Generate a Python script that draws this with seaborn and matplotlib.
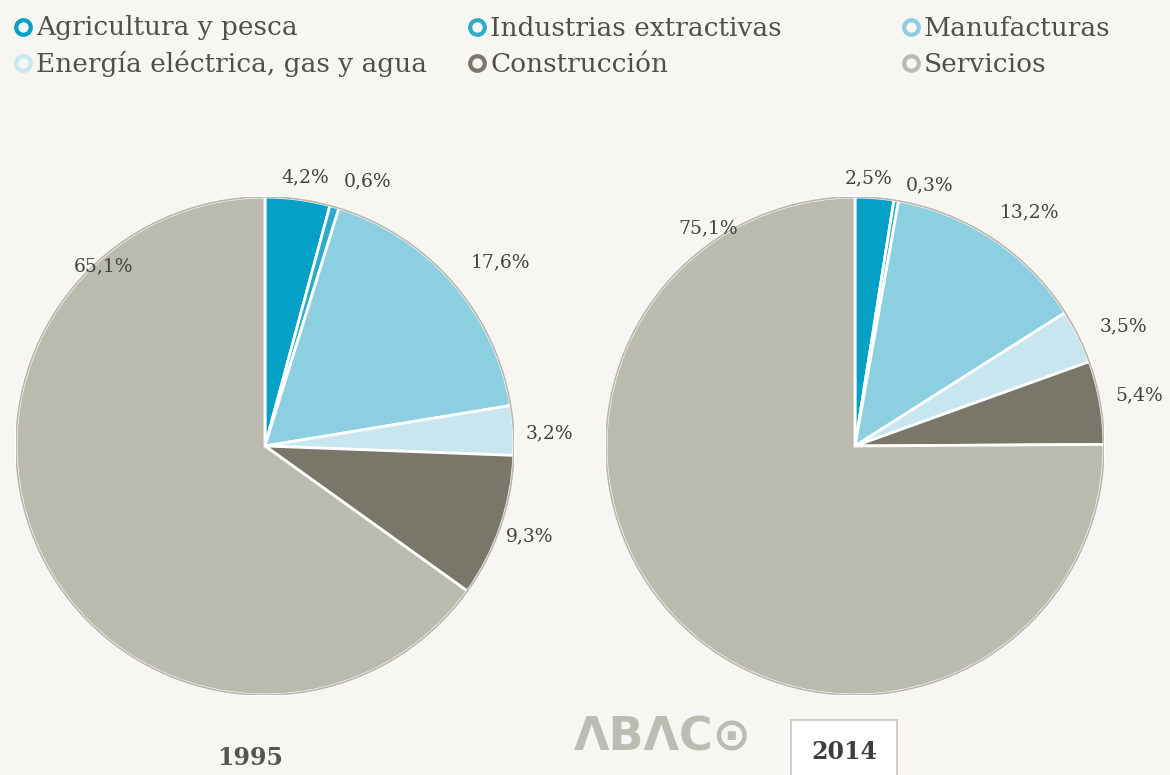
import numpy as np
import matplotlib
matplotlib.use("Agg")
import matplotlib.pyplot as plt
from matplotlib.lines import Line2D
from matplotlib.patches import Circle
import seaborn as sns

# Sector shares of output (%)
sectors = ["Agricultura y pesca", "Industrias extractivas", "Manufacturas",
           "Energía eléctrica, gas y agua", "Construcción", "Servicios"]
shares_1995 = [4.2, 0.6, 17.6, 3.2, 9.3, 65.1]
shares_2014 = [2.5, 0.3, 13.2, 3.5, 5.4, 75.1]
years = ["1995", "2014"]

palette = ["#05A0C5", "#2EAACB", "#8BCFE1", "#C7E6EF", "#79776A", "#BBBAAE"]
BG = "#F7F6F2"
TEXT = "#42423E"

sns.set_theme(style="white")
plt.rcParams["font.family"] = ["DejaVu Serif", "DejaVu Sans"]

fig = plt.figure(figsize=(11.7, 7.75), dpi=100, facecolor=BG)

W, H = 1170, 775
R = 249  # pie radius in pixels


def pie_axes(cx, cy):
    return fig.add_axes([(cx - R) / W, (H - cy - R) / H, 2 * R / W, 2 * R / H])


# label placement per wedge: (angle offset from wedge middle in degrees, radial distance)
label_layout = {
    "1995": [(-1, 1.09), (-5, 1.14), (-3, 1.20), (-1, 1.145), (0, 1.125), (-75.2, 0.97)],
    "2014": [(1.5, 1.076), (-6.5, 1.09), (-3, 1.17), (-2, 1.18), (0, 1.16), (-101.2, 1.056)],
}


def draw_pie(ax, values, year):
    ax.set_facecolor(BG)
    wedges, _ = ax.pie(values, colors=palette, startangle=90, counterclock=False,
                       radius=1.0,
                       wedgeprops=dict(edgecolor="white", linewidth=2.0))
    ax.add_patch(Circle((0, 0), 1.0, fill=False, edgecolor="#B9B7AC", linewidth=1.2))
    for w, v, (dang, dist) in zip(wedges, values, label_layout[year]):
        mid = np.deg2rad((w.theta1 + w.theta2) / 2 + dang)
        txt = f"{v:.1f}".replace(".", ",") + "%"
        ax.text(dist * np.cos(mid), dist * np.sin(mid), txt, ha="center", va="center",
                fontsize=13.5, color=TEXT, clip_on=False)
    ax.set_xlim(-1.0, 1.0)
    ax.set_ylim(-1.0, 1.0)
    ax.set_aspect("auto")
    ax.axis("off")


ax1 = pie_axes(265, 446)
draw_pie(ax1, shares_1995, years[0])
ax2 = pie_axes(855, 446)
draw_pie(ax2, shares_2014, years[1])

# legend rows: ring markers with sector names
legend_pos = [(23, 27), (477, 27), (911, 27), (23, 63), (477, 63), (911, 63)]
for (x, y), name, col in zip(legend_pos, sectors, palette):
    fx, fy = x / W, 1 - y / H
    fig.add_artist(Line2D([fx], [fy], marker="o", markersize=10.5, markerfacecolor=BG,
                          markeredgecolor=col, markeredgewidth=3, linestyle="none",
                          transform=fig.transFigure))
    fig.text(fx + 13 / W, fy - 1 / H, name, ha="left", va="center", fontsize=19,
             color="#50504B")

# year captions
fig.text(250 / W, 1 - 758 / H, years[0], ha="center", va="center", fontsize=17,
         fontweight="bold", color="#555550")
fig.text(844 / W, 1 - 752 / H, years[1], ha="center", va="center", fontsize=17,
         fontweight="bold", color="#3E3E3A",
         bbox=dict(boxstyle="square,pad=0.85", facecolor="white", edgecolor="#C8C6BE",
                   linewidth=1.2))

# brand mark
fig.text(663 / W, 1 - 738 / H, "ΛBΛC⊙", ha="center", va="center", fontsize=33,
         fontweight="bold", family="DejaVu Sans", color="#BDBCB2")

fig.savefig("out.png", dpi=100, facecolor=BG)
